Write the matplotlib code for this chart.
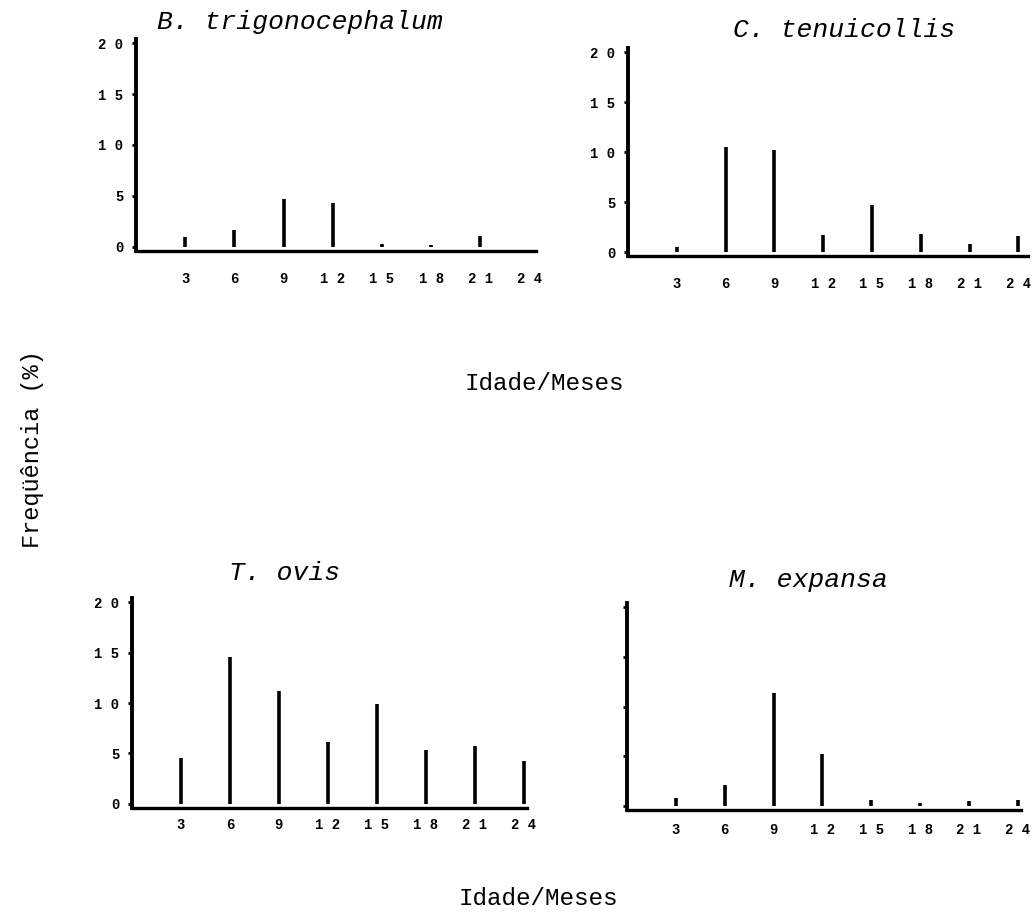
import matplotlib.pyplot as plt

months = [3, 6, 9, 12, 15, 18, 21, 24]
month_labels = ['3', '6', '9', '1 2', '1 5', '1 8', '2 1', '2 4']
freq_ticks = [0, 5, 10, 15, 20]
freq_labels = ['0', '5', '1 0', '1 5', '2 0']

b_trigonocephalum = [1.0, 1.7, 4.7, 4.3, 0.3, 0.2, 1.1, 0.0]
c_tenuicollis = [0.5, 10.5, 10.2, 1.7, 4.7, 1.8, 0.8, 1.6]
t_ovis = [4.6, 14.6, 11.2, 6.1, 9.9, 5.3, 5.7, 4.3]
m_expansa = [0.8, 2.1, 11.4, 5.2, 0.6, 0.3, 0.5, 0.6]

mono = 'Liberation Mono'

fig = plt.figure(figsize=(10.35, 9.13), dpi=100)

panels = [
    # values, title, axes rect, title pos, xlim right, x label pad, y labels shown
    (b_trigonocephalum, 'B. trigonocephalum', [0.1314, 0.7251, 0.3865, 0.2322], (0.290, 0.976), 24.4, 15, True),
    (c_tenuicollis, 'C. tenuicollis', [0.6068, 0.7196, 0.3865, 0.2278], (0.816, 0.967), 24.6, 15, True),
    (t_ovis, 'T. ovis', [0.1275, 0.1150, 0.3816, 0.2300], (0.275, 0.372), 24.2, 7, True),
    (m_expansa, 'M. expansa', [0.6058, 0.1128, 0.3807, 0.2267], (0.781, 0.365), 24.2, 9, False),
]

for values, title, rect, tpos, xmax, xpad, show_y in panels:
    ax = fig.add_axes(rect)
    ax.vlines(months, 0, values, colors='black', linewidth=2.6)
    ax.set_xlim(0, xmax)
    ax.set_ylim(-0.4, 20.4)
    for side in ['top', 'right']:
        ax.spines[side].set_visible(False)
    ax.spines['left'].set_linewidth(2.8)
    ax.spines['bottom'].set_linewidth(2.4)
    ax.set_xticks(months)
    ax.set_xticklabels(month_labels, fontfamily=mono, fontweight='bold', fontsize=10)
    ax.tick_params(axis='x', length=0, pad=xpad)
    ax.set_yticks(freq_ticks)
    if show_y:
        ax.set_yticklabels(freq_labels, fontfamily=mono, fontweight='bold', fontsize=10)
    else:
        ax.set_yticklabels([])
    ax.tick_params(axis='y', length=3, width=2, pad=6)
    fig.text(tpos[0], tpos[1], title, ha='center', va='center',
             fontfamily=mono, fontstyle='italic', fontsize=19)

fig.text(0.526, 1 - 383 / 913, 'Idade/Meses', ha='center', va='center',
         fontfamily=mono, fontsize=17.5)
fig.text(0.520, 1 - 898 / 913, 'Idade/Meses', ha='center', va='center',
         fontfamily=mono, fontsize=17.5)
fig.text(0.031, 1 - 449 / 913, 'Freqüência (%)', ha='center', va='center',
         rotation=90, fontfamily=mono, fontsize=17)

fig.savefig('out.png', dpi=100)
